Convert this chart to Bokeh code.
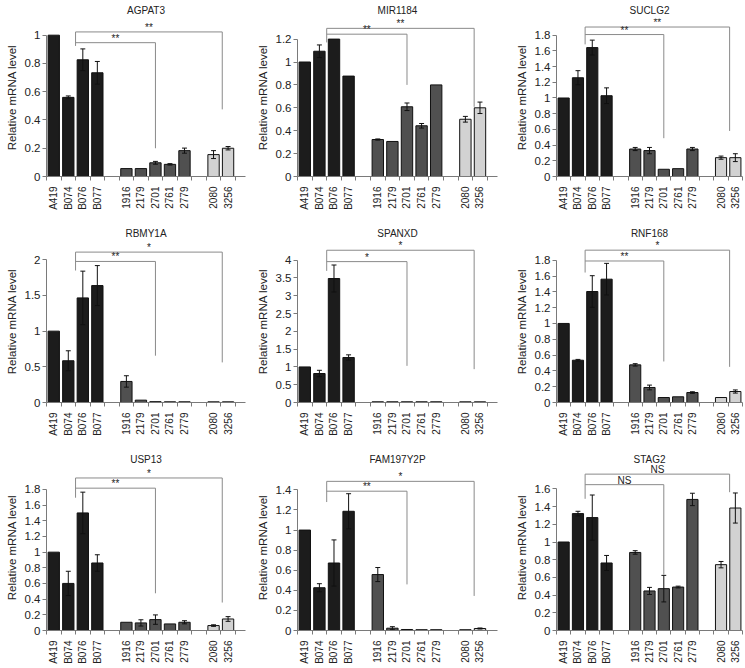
import numpy as np
from bokeh.plotting import figure
from bokeh.layouts import column, row
from bokeh.models import (FixedTicker, Range1d, CustomJSTickFormatter, LabelSet,
                          ColumnDataSource)
from bokeh.core.properties import value
from bokeh.embed import file_html
from bokeh.resources import INLINE

# ---------------- data ----------------
cell_groups = [["A419", "B074", "B076", "B077"],
               ["1916", "2179", "2701", "2761", "2779"],
               ["2080", "3256"]]
group_colors = ["#1c1c1c", "#505050", "#d2d2d2"]

genes = ["AGPAT3", "MIR1184", "SUCLG2", "RBMY1A", "SPANXD", "RNF168",
         "USP13", "FAM197Y2P", "STAG2"]

agpat3_mean = [1.00, 0.56, 0.826, 0.734, 0.056, 0.056, 0.097, 0.086, 0.183, 0.155, 0.200]
agpat3_err = [0.00, 0.010, 0.077, 0.080, 0.0, 0.0, 0.010, 0.005, 0.018, 0.028, 0.012]
agpat3_yticks = ["0", "0.2", "0.4", "0.6", "0.8", "1"]
agpat3_brackets = [1.023, 0.947, 0.924, 0.200, 0.475]
agpat3_marks = ["**", "**"]

mir1184_mean = [1.00, 1.094, 1.20, 0.877, 0.323, 0.306, 0.609, 0.443, 0.80, 0.50, 0.60]
mir1184_err = [0.0, 0.055, 0.0, 0.0, 0.005, 0.0, 0.033, 0.020, 0.0, 0.025, 0.050]
mir1184_yticks = ["0", "0.2", "0.4", "0.6", "0.8", "1", "1.2"]
mir1184_brackets = [1.294, 1.243, 1.171, 0.80, 0.609]
mir1184_marks = ["**", "**"]

suclg2_mean = [1.00, 1.258, 1.642, 1.029, 0.350, 0.330, 0.092, 0.100, 0.350, 0.240, 0.240]
suclg2_err = [0.0, 0.090, 0.095, 0.100, 0.020, 0.040, 0.0, 0.0, 0.020, 0.020, 0.050]
suclg2_yticks = ["0", "0.2", "0.4", "0.6", "0.8", "1", "1.2", "1.4", "1.6", "1.8"]
suclg2_brackets = [1.904, 1.808, 1.683, 0.488, 0.580]
suclg2_marks = ["**", "**"]

rbmy1a_mean = [1.00, 0.585, 1.466, 1.639, 0.295, 0.033, 0.012, 0.010, 0.010, 0.010, 0.010]
rbmy1a_err = [0.0, 0.140, 0.375, 0.280, 0.080, 0.0, 0.0, 0.0, 0.0, 0.0, 0.0]
rbmy1a_yticks = ["0", "0.5", "1", "1.5", "2"]
rbmy1a_brackets = [2.108, 1.977, 1.850, 0.656, 0.562]
rbmy1a_marks = ["**", "*"]

spanxd_mean = [1.00, 0.815, 3.485, 1.265, 0.02, 0.02, 0.02, 0.02, 0.02, 0.02, 0.02]
spanxd_err = [0.0, 0.090, 0.380, 0.075, 0.0, 0.0, 0.0, 0.0, 0.0, 0.0, 0.0]
spanxd_yticks = ["0", "0.5", "1", "1.5", "2", "2.5", "3", "3.5", "4"]
spanxd_brackets = [4.28, 3.96, 3.70, 1.03, 0.937]
spanxd_marks = ["*", "*"]

rnf168_mean = [1.00, 0.535, 1.404, 1.560, 0.476, 0.190, 0.063, 0.072, 0.126, 0.063, 0.139]
rnf168_err = [0.0, 0.010, 0.200, 0.200, 0.015, 0.030, 0.0, 0.0, 0.010, 0.0, 0.020]
rnf168_yticks = ["0", "0.2", "0.4", "0.6", "0.8", "1", "1.2", "1.4", "1.6", "1.8"]
rnf168_brackets = [1.927, 1.790, 1.644, 0.519, 0.451]
rnf168_marks = ["**", "*"]

usp13_mean = [1.00, 0.601, 1.501, 0.862, 0.105, 0.097, 0.139, 0.084, 0.105, 0.063, 0.147]
usp13_err = [0.0, 0.155, 0.265, 0.105, 0.0, 0.040, 0.060, 0.0, 0.020, 0.010, 0.030]
usp13_yticks = ["0", "0.2", "0.4", "0.6", "0.8", "1", "1.2", "1.4", "1.6", "1.8"]
usp13_brackets = [1.947, 1.817, 1.695, 0.475, 0.357]
usp13_marks = ["**", "*"]

fam197y2p_mean = [1.00, 0.426, 0.672, 1.187, 0.557, 0.023, 0.010, 0.008, 0.008, 0.008, 0.020]
fam197y2p_err = [0.0, 0.040, 0.230, 0.175, 0.070, 0.015, 0.0, 0.0, 0.0, 0.0, 0.005]
fam197y2p_yticks = ["0", "0.2", "0.4", "0.6", "0.8", "1", "1.2", "1.4"]
fam197y2p_brackets = [1.485, 1.387, 1.279, 0.459, 0.344]
fam197y2p_marks = ["**", "*"]

stag2_mean = [1.00, 1.321, 1.276, 0.763, 0.882, 0.447, 0.473, 0.491, 1.481, 0.744, 1.384]
stag2_err = [0.0, 0.026, 0.255, 0.085, 0.020, 0.040, 0.150, 0.010, 0.070, 0.036, 0.170]
stag2_yticks = ["0", "0.2", "0.4", "0.6", "0.8", "1", "1.2", "1.4", "1.6"]
stag2_brackets = [1.767, 1.648, 1.488, 0.63, 1.563]
stag2_marks = ["NS", "NS"]

means = [agpat3_mean, mir1184_mean, suclg2_mean, rbmy1a_mean, spanxd_mean,
         rnf168_mean, usp13_mean, fam197y2p_mean, stag2_mean]
errs = [agpat3_err, mir1184_err, suclg2_err, rbmy1a_err, spanxd_err,
        rnf168_err, usp13_err, fam197y2p_err, stag2_err]
yticks = [agpat3_yticks, mir1184_yticks, suclg2_yticks, rbmy1a_yticks, spanxd_yticks,
          rnf168_yticks, usp13_yticks, fam197y2p_yticks, stag2_yticks]
brackets = [agpat3_brackets, mir1184_brackets, suclg2_brackets, rbmy1a_brackets,
            spanxd_brackets, rnf168_brackets, usp13_brackets, fam197y2p_brackets,
            stag2_brackets]
marks = [agpat3_marks, mir1184_marks, suclg2_marks, rbmy1a_marks, spanxd_marks,
         rnf168_marks, usp13_marks, fam197y2p_marks, stag2_marks]

# ---------------- layout / style ----------------
FONT = "Liberation Sans"
TEXT = "#222222"
AXIS = "#7a7a7a"
BRACKET = "#8a8a8a"

col_w = [250, 250, 244]
col_bl = [46, 47, 56]
col_br = [5, 3, 2]
col_xend = [13.2, 13.2, 12.5]
col_title_offset = [-9, -2, 0]
row_h = [214, 228, 224]
row_bt = [15, 26, 22]
row_bb = [38, 40, 34]
row_title_standoff = [5, 3, 0]
tick_px = [144, 140, 144, 142.7, 142.3, 142.3, 142.7, 142.3, 143.3]

# slot positions with a gap between groups
names, positions, colors = [], [], []
pos = 0
for gi, g in enumerate(cell_groups):
    for nm in g:
        names.append(nm)
        positions.append(pos)
        colors.append(group_colors[gi])
        pos += 1
    pos += 1
n_slots = pos - 1
boundaries = [k - 0.5 for k in range(n_slots + 1)]
left_x = (positions[1] + positions[2]) / 2.0
r1_x = positions[names.index("2701")]
r2_x = positions[names.index("3256")] - 0.4


def make_panel(i):
    r, c = divmod(i, 3)
    ylabels = yticks[i]
    yvals = [float(s) for s in ylabels]
    ymax = yvals[-1]
    frame_h = row_h[r] - row_bt[r] - row_bb[r]
    y_end = ymax * frame_h / tick_px[i]

    p = figure(width=col_w[c], height=row_h[r],
               x_range=Range1d(-0.5, col_xend[c]), y_range=Range1d(0, y_end),
               output_backend="svg", toolbar_location=None,
               min_border_left=col_bl[c], min_border_right=col_br[c],
               min_border_top=row_bt[r], min_border_bottom=row_bb[r],
               title=genes[i])
    p.outline_line_color = None
    p.grid.visible = False
    p.background_fill_color = "white"
    p.border_fill_color = "white"

    p.title.align = "center"
    p.title.text_font = FONT
    p.title.text_font_size = "10px"
    p.title.text_font_style = "normal"
    p.title.text_color = TEXT
    p.title.standoff = row_title_standoff[r]
    p.title.offset = col_title_offset[c]

    # y axis
    ya = p.yaxis[0]
    ya.ticker = FixedTicker(ticks=yvals, minor_ticks=[])
    ya.formatter = CustomJSTickFormatter(args=dict(labels=ylabels),
                                         code="return labels[index];")
    ya.bounds = (0, ymax)
    ya.axis_label = "Relative mRNA level"
    ya.axis_label_text_font = FONT
    ya.axis_label_text_font_size = "11.5px"
    ya.axis_label_text_font_style = "normal"
    ya.axis_label_text_color = TEXT
    ya.axis_label_standoff = 4
    ya.major_label_text_font = FONT
    ya.major_label_text_font_size = "11.5px"
    ya.major_label_text_color = TEXT
    ya.major_label_standoff = 2
    ya.major_tick_out = 4
    ya.major_tick_in = 0
    ya.minor_tick_out = 0
    ya.minor_tick_in = 0
    ya.axis_line_color = AXIS
    ya.major_tick_line_color = AXIS

    # x axis
    xa = p.xaxis[0]
    xa.ticker = FixedTicker(ticks=positions, minor_ticks=boundaries)
    xa.formatter = CustomJSTickFormatter(args=dict(labels=names),
                                         code="return labels[index];")
    xa.major_label_orientation = np.pi / 2
    xa.major_label_text_font = FONT
    xa.major_label_text_font_size = "10px"
    xa.major_label_text_color = TEXT
    xa.major_label_standoff = 6
    xa.major_tick_out = 0
    xa.major_tick_in = 0
    xa.minor_tick_out = 4
    xa.minor_tick_in = 0
    xa.axis_line_color = AXIS
    xa.minor_tick_line_color = AXIS

    # bars
    src = ColumnDataSource(dict(x=positions, top=means[i], color=colors))
    p.vbar(x="x", top="top", width=0.78, source=src, fill_color="color",
           line_color="#111111", line_width=1)

    # error bars
    ex, lo, hi = [], [], []
    for xx, m, e in zip(positions, means[i], errs[i]):
        if e > 0:
            ex.append(xx)
            lo.append(m - e)
            hi.append(m + e)
    if ex:
        cap = 0.17
        p.segment(x0=ex, y0=lo, x1=ex, y1=hi, line_color="#111111", line_width=1)
        p.segment(x0=[v - cap for v in ex], y0=hi, x1=[v + cap for v in ex], y1=hi,
                  line_color="#111111", line_width=1)
        p.segment(x0=[v - cap for v in ex], y0=lo, x1=[v + cap for v in ex], y1=lo,
                  line_color="#111111", line_width=1)

    # significance brackets
    up, low, left_end, end1, end2 = brackets[i]
    p.multi_line(xs=[[left_x, left_x, r2_x, r2_x], [left_x, r1_x, r1_x]],
                 ys=[[left_end, up, up, end2], [low, low, end1]],
                 line_color=BRACKET, line_width=1)
    lab_src = ColumnDataSource(dict(
        x=[(left_x + r1_x) / 2.0, (left_x + r2_x) / 2.0],
        y=[low, up], t=marks[i]))
    p.add_layout(LabelSet(x="x", y="y", text="t", source=lab_src,
                          text_align="center", text_baseline="alphabetic",
                          y_offset=1, text_font=value(FONT),
                          text_font_size=value("10px"),
                          text_color=value(TEXT)))
    return p


panels = [make_panel(i) for i in range(9)]
layout = column(row(*panels[0:3]), row(*panels[3:6]), row(*panels[6:9]))

open("out.html", "w").write(file_html(layout, INLINE))
